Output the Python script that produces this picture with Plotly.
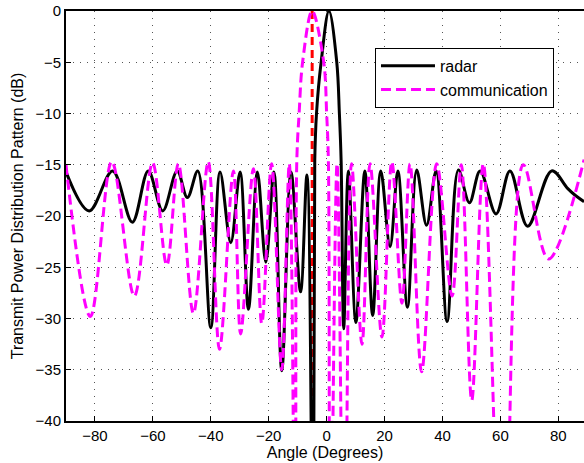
import plotly.graph_objects as go

# Radar beampattern (angle in degrees, level in dB)
radar_angle = [-90, -82.0, -73.9, -67.1, -61.6, -56.6, -51.6, -48.1, -44.5, -40.0,
               -36.8, -33.1, -29.9, -27.0, -23.9, -21.0, -18.2, -15.5, -12.3, -9.0,
               -6.8, -4.6, -4.1, -3.5, -1.9, 0.8, 3.5, 4.4, 5.0, 5.9,
               7.5, 10.1, 13.2, 15.9, 18.7, 21.9, 24.6, 27.9, 31.1, 34.5,
               37.8, 41.6, 45.5, 49.3, 53.0, 58.5, 63.3, 69.4, 77.7, 83.2,
               85.5, 88.9]
radar_db = [-15.7, -19.5, -15.6, -20.6, -15.6, -19.5, -15.6, -18.2, -15.6, -30.9,
            -15.7, -22.6, -15.7, -29.1, -15.7, -24.5, -15.7, -35.1, -15.7, -27.4,
            -16.0, -60.0, -14.6, -10.0, -5.0, 0.0, -5.0, -10.0, -14.6, -31.0,
            -15.6, -30.4, -15.6, -29.7, -15.6, -23.0, -15.6, -28.9, -15.5, -20.9,
            -15.6, -30.3, -15.5, -18.7, -15.6, -19.8, -15.6, -21.0, -15.6, -17.3,
            -17.9, -18.6]

# Communication beampattern
comm_angle = [-90, -81.6, -74.2, -66.4, -60.1, -55.2, -51.2, -46.0, -40.9, -37.0,
              -32.2, -29.7, -25.3, -22.4, -19.0, -15.5, -12.9, -10.8, -10.3, -9.5,
              -8.3, -5.0, -1.0, 0.0, 0.6, 1.2, 3.6, 6.1, 8.6, 12.2,
              15.0, 19.1, 22.5, 26.0, 28.8, 32.8, 38.0, 43.3, 46.5, 50.1,
              54.1, 61.0, 67.9, 76.6, 88.9]
comm_db = [-15.0, -29.8, -14.7, -27.8, -14.8, -24.8, -14.9, -29.5, -14.7, -33.0,
           -15.6, -31.5, -15.4, -30.5, -14.9, -35.0, -14.9, -60.0, -14.6, -10.0,
           -5.0, 0.0, -5.0, -10.0, -14.6, -60.0, -14.9, -60.0, -14.9, -32.5,
           -14.9, -31.8, -14.7, -28.5, -14.9, -35.2, -14.9, -27.8, -15.0, -38.0,
           -14.9, -60.0, -15.0, -24.2, -14.5]

# Communication user direction marker
user_angle = [-5.0, -5.0]
user_db = [0, -40]

x_ticks = [-80, -60, -40, -20, 0, 20, 40, 60, 80]
y_ticks = [-40, -35, -30, -25, -20, -15, -10, -5, 0]

fig = go.Figure()
fig.add_trace(go.Scatter(x=user_angle, y=user_db, mode="lines",
                         line=dict(color="#ff0000", width=3, dash="8px,5px"),
                         showlegend=False, hoverinfo="skip"))
fig.add_trace(go.Scatter(x=radar_angle, y=radar_db, mode="lines", name="radar",
                         line=dict(color="black", width=3, shape="spline", smoothing=1.0)))
fig.add_trace(go.Scatter(x=comm_angle, y=comm_db, mode="lines", name="communication",
                         line=dict(color="#ff00ff", width=3, dash="10px,5px",
                                   shape="spline", smoothing=1.0)))

font_family = "Liberation Sans, Arial, sans-serif"
fig.update_layout(
    width=584, height=463,
    margin=dict(l=66, r=0, t=11, b=42),
    paper_bgcolor="white", plot_bgcolor="white",
    font=dict(family=font_family, size=15, color="black"),
    showlegend=True,
    legend=dict(x=0.5965, y=0.91, xanchor="left", yanchor="top",
                bgcolor="white", bordercolor="black", borderwidth=1,
                font=dict(size=16), tracegroupgap=0, itemwidth=54),
)
grid_style = dict(showgrid=True, gridcolor="#555555", griddash="1px,6px", gridwidth=1)
fig.update_xaxes(range=[-90, 88.87], tickvals=x_ticks,
                 showline=True, linecolor="black", linewidth=2, mirror=True,
                 ticks="inside", ticklen=5, tickcolor="black",
                 zeroline=False, **grid_style,
                 title=dict(text="Angle (Degrees)", font=dict(size=16), standoff=2))
fig.update_yaxes(range=[-40, 0], tickvals=y_ticks,
                 showline=True, linecolor="black", linewidth=2, mirror=False,
                 ticks="inside", ticklen=5, tickcolor="black",
                 zeroline=False, **grid_style,
                 title=dict(text="Transmit Power Distribution Pattern (dB)",
                            font=dict(size=16), standoff=8))
fig.write_html("out.html")
